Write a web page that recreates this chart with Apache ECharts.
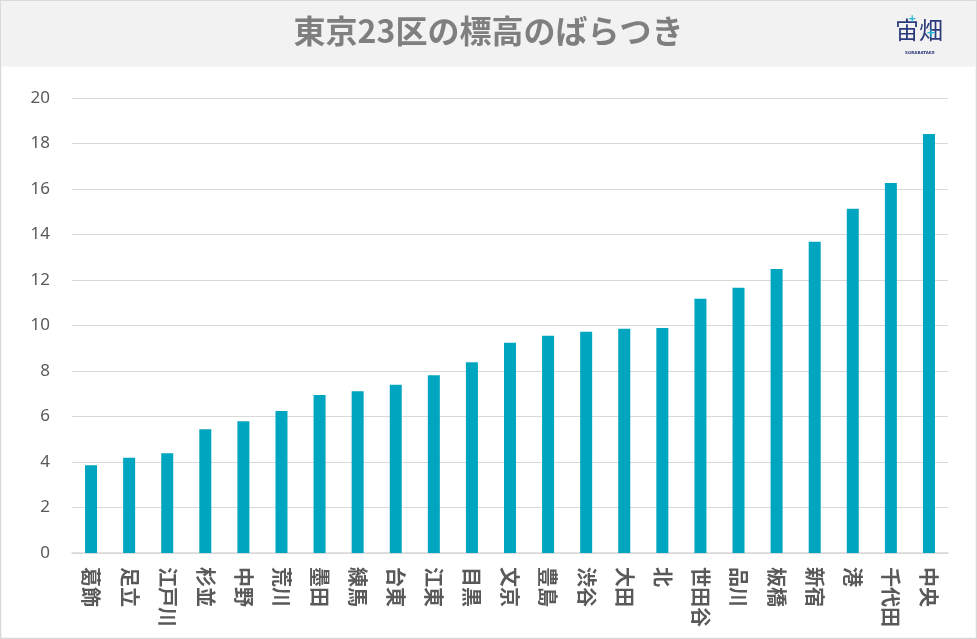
<!DOCTYPE html>
<html><head><meta charset="utf-8">
<script src="https://cdn.jsdelivr.net/npm/echarts@6/dist/echarts.min.js"></script>
<style>html,body{margin:0;padding:0;background:#fff;}#c{width:977px;height:639px;}</style>
</head><body><div id="c"></div>
<script>
const titleText = '東京23区の標高のばらつき';
const categories = ['葛飾','足立','江戸川','杉並','中野','荒川','墨田','練馬','台東','江東','目黒','文京','豊島','渋谷','大田','北','世田谷','品川','板橋','新宿','港','千代田','中央'];
const elevation = [3.86,4.19,4.38,5.44,5.79,6.24,6.95,7.11,7.40,7.81,8.38,9.24,9.55,9.73,9.86,9.89,11.18,11.66,12.48,13.68,15.13,16.26,18.42];
const yTicks = {min:0, max:20, interval:2};

const chart = echarts.init(document.getElementById('c'), null, {renderer:'canvas'});
chart.setOption({
  animation:false,
  backgroundColor:'#fff',
  graphic:[
    {type:'rect', shape:{x:0.5,y:0.5,width:976,height:638}, style:{fill:'#fff',stroke:'#d9d9d9',lineWidth:1.5}, z:-10},
    {type:'rect', shape:{x:1.5,y:1.5,width:974,height:65}, style:{fill:'#f2f2f2'}, z:-9},
    {type:'text', left:'center', top:15, style:{text:titleText, fill:'#7f7f7f', font:'bold 32px "Noto Sans CJK JP"'}},
    {type:'text', left:895, top:18, style:{text:'宙畑', fill:'#2b3a7a', font:'24px "Noto Sans CJK JP"'}},
    {type:'text', left:908, top:14, style:{text:'+', fill:'#27b5d8', font:'bold 10px "DejaVu Sans"'}},
    {type:'text', left:926, top:28, style:{text:'+', fill:'#27b5d8', font:'bold 12px "DejaVu Sans"'}},
    {type:'text', left:905, top:51, style:{text:'SORABATAKE', fill:'#2b3a7a', font:'bold 4px "DejaVu Sans"'}}
  ],
  grid:{left:72, right:29, top:98, bottom:86, containLabel:false},
  xAxis:{
    type:'category', data:categories,
    axisLine:{show:true, lineStyle:{color:'#d9d9d9', width:1.5}},
    axisTick:{show:false},
    axisLabel:{rotate:-90, interval:0, color:'#595959', fontSize:20, fontWeight:'bold', margin:14, fontFamily:'"Noto Sans CJK JP"', verticalAlign:'middle'}
  },
  yAxis:{
    type:'value', min:yTicks.min, max:yTicks.max, interval:yTicks.interval,
    axisLine:{show:false}, axisTick:{show:false},
    axisLabel:{color:'#595959', fontSize:17, margin:22, fontFamily:'"Noto Sans"'},
    splitLine:{lineStyle:{color:'#d9d9d9', width:1.2}}
  },
  series:[{
    type:'bar', data:elevation, barWidth:12,
    itemStyle:{color:'#00a5bf'}
  }]
});
</script></body></html>
